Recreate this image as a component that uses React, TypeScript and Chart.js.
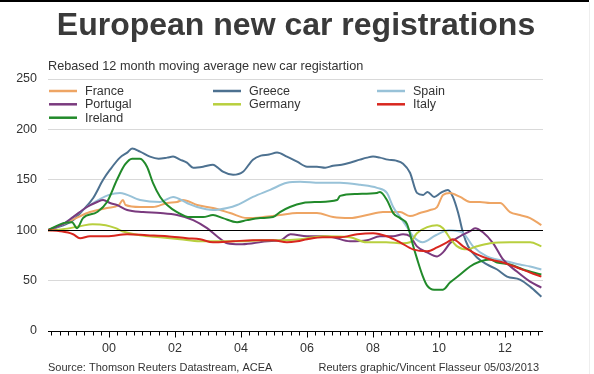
import React, { useEffect, useRef } from 'react';
import { Chart, registerables } from 'chart.js';

Chart.register(...registerables);

const TITLE = 'European new car registrations';
const SUBTITLE = 'Rebased 12 month moving average new car registartion';
const SOURCE_LEFT = 'Source: Thomson Reuters Datastream, ACEA';
const SOURCE_RIGHT = 'Reuters graphic/Vincent Flasseur 05/03/2013';

const X_MIN = 1998.15;
const X_MAX = 2013.15;
const xLabelYears = [2000, 2002, 2004, 2006, 2008, 2010, 2012];
const yTickValues = [0, 50, 100, 150, 200, 250];

type P = [number, number];

const france: P[] = [
  [1998.15, 100], [1998.6, 106], [1999.0, 112], [1999.42, 118], [1999.94, 122], [2000.3, 125],
  [2000.42, 130], [2000.5, 125], [2000.94, 123], [2001.33, 123], [2001.76, 127], [2002.06, 128],
  [2002.24, 130], [2002.67, 125], [2003.15, 122], [2003.67, 117], [2004.18, 112], [2004.67, 113],
  [2005.18, 115], [2005.7, 117], [2006.3, 117], [2006.79, 113], [2007.3, 112], [2007.82, 115],
  [2008.3, 118], [2008.82, 118], [2009.12, 114], [2009.42, 117], [2009.73, 120], [2009.94, 123],
  [2010.12, 135], [2010.33, 137], [2010.64, 133], [2010.94, 128], [2011.24, 128], [2011.55, 127],
  [2011.85, 127], [2012.15, 118], [2012.45, 115], [2012.76, 112], [2013.1, 105],
];

const greece: P[] = [
  [1998.15, 100], [1998.45, 103], [1998.7, 106], [1998.91, 110], [1999.21, 120], [1999.52, 132],
  [1999.82, 150], [2000.03, 160], [2000.33, 172], [2000.55, 177], [2000.7, 181], [2000.94, 178],
  [2001.24, 173], [2001.5, 171], [2001.76, 172], [2001.94, 173], [2002.15, 170], [2002.36, 167],
  [2002.55, 162], [2002.85, 163], [2003.15, 165], [2003.3, 162], [2003.45, 158], [2003.76, 155],
  [2004.06, 158], [2004.36, 170], [2004.6, 174], [2004.85, 175], [2005.09, 177], [2005.39, 173],
  [2005.7, 168], [2006.0, 163], [2006.3, 163], [2006.55, 162], [2006.79, 164], [2007.05, 165],
  [2007.3, 167], [2007.6, 170], [2007.82, 172], [2008.0, 173], [2008.21, 172], [2008.45, 170],
  [2008.7, 169], [2008.91, 166], [2009.12, 157], [2009.33, 137], [2009.52, 135], [2009.65, 138],
  [2009.85, 133], [2010.05, 137], [2010.27, 140], [2010.42, 133], [2010.58, 117], [2010.73, 97],
  [2010.88, 84], [2011.15, 73], [2011.45, 66], [2011.76, 61], [2012.06, 54], [2012.45, 51],
  [2012.76, 44], [2013.1, 34],
];

const spain: P[] = [
  [1998.15, 100], [1998.6, 106], [1998.91, 113], [1999.42, 125], [2000.0, 135], [2000.33, 137],
  [2000.94, 130], [2001.55, 128], [2001.94, 133], [2002.36, 127], [2002.67, 123], [2003.15, 120],
  [2003.58, 122], [2003.88, 125], [2004.36, 133], [2004.88, 140], [2005.39, 147], [2005.79, 148],
  [2006.39, 147], [2007.0, 147], [2007.61, 145], [2008.12, 142], [2008.42, 137], [2008.61, 123],
  [2008.82, 113], [2009.03, 103], [2009.21, 94], [2009.5, 88], [2009.9, 95], [2010.3, 100],
  [2010.73, 97], [2011.03, 84], [2011.45, 74], [2011.76, 71], [2012.06, 69], [2012.45, 66],
  [2012.76, 64], [2013.1, 61],
];

const portugal: P[] = [
  [1998.15, 100], [1998.6, 106], [1998.91, 113], [1999.33, 123], [1999.64, 128], [1999.82, 130],
  [2000.03, 127], [2000.24, 125], [2000.55, 120], [2001.03, 118], [2001.55, 117], [2002.06, 115],
  [2002.55, 110], [2002.97, 102], [2003.27, 94], [2003.58, 87], [2003.97, 86], [2004.36, 87],
  [2004.8, 89], [2005.2, 90], [2005.5, 96], [2006.0, 94], [2006.48, 94], [2006.79, 93],
  [2007.3, 89], [2007.82, 90], [2008.21, 94], [2008.61, 94], [2008.91, 96], [2009.12, 94],
  [2009.33, 84], [2009.64, 78], [2009.94, 74], [2010.12, 78], [2010.33, 87], [2010.64, 94],
  [2010.94, 99], [2011.09, 102], [2011.33, 98], [2011.64, 87], [2011.94, 71], [2012.36, 59],
  [2012.76, 49], [2013.1, 43],
];

const germany: P[] = [
  [1998.15, 100], [1998.6, 101], [1999.12, 104], [1999.5, 106], [1999.9, 105], [2000.2, 102],
  [2000.4, 99], [2000.94, 95], [2001.55, 93], [2002.15, 91], [2002.76, 89], [2003.36, 89],
  [2004.0, 89], [2004.6, 90], [2005.2, 90], [2005.8, 91], [2006.5, 94], [2007.3, 93],
  [2007.8, 88], [2008.4, 88], [2008.9, 87], [2009.12, 88], [2009.33, 97], [2009.64, 103],
  [2009.94, 105], [2010.12, 102], [2010.33, 92], [2010.55, 84], [2010.85, 81], [2011.15, 84],
  [2011.55, 87], [2012.15, 88], [2012.76, 88], [2013.1, 84],
];

const italy: P[] = [
  [1998.15, 100], [1998.52, 99], [1998.91, 96], [1999.12, 92], [1999.42, 94], [1999.94, 94],
  [2000.55, 96], [2001.15, 95], [2001.76, 94], [2002.36, 92], [2002.76, 91], [2003.15, 88],
  [2003.76, 89], [2004.36, 90], [2004.97, 90], [2005.39, 88], [2005.7, 89], [2006.0, 91],
  [2006.48, 93], [2007.0, 93], [2007.52, 96], [2008.0, 97], [2008.42, 94], [2008.82, 88],
  [2009.21, 81], [2009.64, 79], [2009.94, 83], [2010.24, 88], [2010.42, 91], [2010.73, 84],
  [2011.15, 76], [2011.55, 71], [2011.94, 68], [2012.36, 63], [2012.76, 58], [2013.1, 54],
];

const ireland: P[] = [
  [1998.15, 100], [1998.61, 107], [1998.88, 108], [1999.03, 102], [1999.21, 112], [1999.64, 118],
  [1999.94, 128], [2000.24, 150], [2000.48, 165], [2000.7, 171], [2000.94, 171], [2001.15, 163],
  [2001.33, 147], [2001.55, 133], [2001.76, 125], [2002.06, 118], [2002.45, 113], [2002.85, 113],
  [2003.15, 115], [2003.45, 112], [2003.88, 108], [2004.18, 110], [2004.58, 112], [2004.97, 113],
  [2005.18, 118], [2005.48, 123], [2005.88, 127], [2006.3, 128], [2006.91, 130], [2007.0, 134],
  [2007.52, 136], [2008.12, 137], [2008.21, 138], [2008.42, 130], [2008.61, 117], [2008.82, 112],
  [2009.03, 106], [2009.21, 85], [2009.33, 72], [2009.5, 55], [2009.64, 45], [2009.85, 41],
  [2010.12, 41], [2010.33, 48], [2010.64, 56], [2010.94, 64], [2011.24, 69], [2011.55, 71],
  [2011.76, 68], [2012.15, 66], [2012.55, 61], [2013.1, 56],
];

const seriesNames = ['France', 'Greece', 'Spain', 'Portugal', 'Germany', 'Italy', 'Ireland'];
const seriesData = [france, greece, spain, portugal, germany, italy, ireland];
const seriesColors = ['#eea564', '#4d7190', '#98c2d8', '#7a3a7e', '#b8cf3e', '#d8261e', '#218a2a'];
// drawing order (lower = on top)
const seriesOrder = [5, 6, 4, 3, 2, 0, 1];

const FONT = '"Liberation Sans", Arial, Helvetica, sans-serif';

const decorPlugin = {
  id: 'decor',
  afterDatasetsDraw(chart: any) {
    const { ctx, chartArea, scales } = chart;
    const y = scales.y;
    const x = scales.x;
    ctx.save();
    const y100 = Math.round(y.getPixelForValue(100)) + 0.5;
    ctx.strokeStyle = '#000';
    ctx.lineWidth = 1;
    ctx.beginPath();
    ctx.moveTo(chartArea.left, y100);
    ctx.lineTo(chartArea.right, y100);
    ctx.stroke();
    const y0 = Math.round(y.getPixelForValue(0)) + 0.5;
    ctx.beginPath();
    ctx.moveTo(chartArea.left, y0);
    ctx.lineTo(chartArea.right, y0);
    ctx.stroke();
    for (let q = Math.ceil(X_MIN * 4) / 4; q <= X_MAX + 1e-9; q += 0.25) {
      const px = Math.round(x.getPixelForValue(q)) + 0.5;
      const major = Math.abs(q - Math.round(q)) < 1e-6 && Math.round(q) % 2 === 0;
      ctx.beginPath();
      ctx.moveTo(px, y0);
      ctx.lineTo(px, y0 + (major ? 6 : 4));
      ctx.stroke();
    }
    ctx.restore();
  },
  afterDraw(chart: any) {
    const { ctx, chartArea } = chart;
    ctx.save();
    ctx.fillStyle = '#000';
    ctx.fillRect(0, 0, 589, 2);
    ctx.fillStyle = '#eeeeee';
    ctx.fillRect(589, 2, 1, 372);

    ctx.fillStyle = '#3a3a3a';
    ctx.font = `bold 32px ${FONT}`;
    ctx.textAlign = 'center';
    ctx.textBaseline = 'alphabetic';
    ctx.fillText(TITLE, 296, 35);

    ctx.fillStyle = '#333';
    ctx.font = `12.7px ${FONT}`;
    ctx.textAlign = 'left';
    ctx.textBaseline = 'middle';
    ctx.fillText(SUBTITLE, chartArea.left, 66);

    const colX = [49, 213, 377];
    const rowY = [91, 104.3, 117.7];
    seriesNames.forEach((name, i) => {
      const cx = colX[i % 3];
      const cy = rowY[Math.floor(i / 3)];
      ctx.strokeStyle = seriesColors[i];
      ctx.lineWidth = 2.5;
      ctx.beginPath();
      ctx.moveTo(cx, cy);
      ctx.lineTo(cx + 28, cy);
      ctx.stroke();
      ctx.fillStyle = '#333';
      ctx.font = `12.5px ${FONT}`;
      ctx.textAlign = 'left';
      ctx.textBaseline = 'middle';
      ctx.fillText(name, cx + 36, cy + 0.5);
    });

    ctx.font = `11px ${FONT}`;
    ctx.fillStyle = '#333';
    ctx.textBaseline = 'middle';
    ctx.textAlign = 'left';
    ctx.fillText(SOURCE_LEFT, chartArea.left, 368);
    ctx.textAlign = 'right';
    ctx.fillText(SOURCE_RIGHT, 539, 368);
    ctx.restore();
  },
};

export default function App() {
  const canvasRef = useRef<HTMLCanvasElement | null>(null);

  useEffect(() => {
    if (!canvasRef.current) return;
    const chart = new Chart(canvasRef.current, {
      type: 'line',
      data: {
        datasets: seriesNames.map((name, i) => ({
          label: name,
          data: seriesData[i].map(([x, y]) => ({ x, y })),
          borderColor: seriesColors[i],
          backgroundColor: seriesColors[i],
          borderWidth: 2,
          pointRadius: 0,
          fill: false,
          cubicInterpolationMode: 'monotone' as const,
          order: seriesOrder[i],
        })),
      },
      options: {
        animation: false,
        responsive: true,
        maintainAspectRatio: false,
        layout: { padding: { top: 79, right: 51, left: 0, bottom: 0 } },
        plugins: {
          legend: { display: false },
          title: { display: false },
          tooltip: { enabled: false },
        },
        scales: {
          x: {
            type: 'linear',
            min: X_MIN,
            max: X_MAX,
            afterBuildTicks: (scale: any) => {
              scale.ticks = xLabelYears.map((v) => ({ value: v }));
            },
            afterFit: (scale: any) => {
              scale.height = 43;
            },
            grid: { display: false, drawTicks: false },
            border: { display: false },
            ticks: {
              autoSkip: false,
              maxRotation: 0,
              padding: 10,
              color: '#333',
              font: { family: FONT, size: 12.5 },
              callback: (v: any) => String(Math.round(Number(v)) % 100).padStart(2, '0'),
            },
          },
          y: {
            min: 0,
            max: 250,
            afterBuildTicks: (scale: any) => {
              scale.ticks = yTickValues.map((v) => ({ value: v }));
            },
            afterFit: (scale: any) => {
              scale.width = 48;
            },
            border: { display: false },
            grid: {
              drawTicks: false,
              color: (c: any) => (c.tick && (c.tick.value === 0 || c.tick.value === 100) ? 'rgba(0,0,0,0)' : '#d9d9d9'),
              lineWidth: 1,
            },
            ticks: {
              padding: 11,
              color: '#333',
              font: { family: FONT, size: 12.5 },
            },
          },
        },
      },
      plugins: [decorPlugin],
    });
    return () => chart.destroy();
  }, []);

  return (
    <div style={{ position: 'fixed', left: 0, top: 0, width: 594, height: 374, background: '#fff' }}>
      <canvas ref={canvasRef} />
    </div>
  );
}
